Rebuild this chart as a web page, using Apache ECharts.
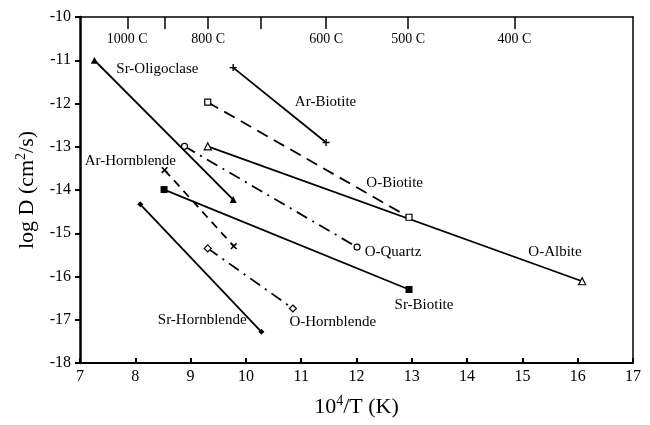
<!DOCTYPE html>
<html>
<head>
<meta charset="utf-8">
<script src="https://cdn.jsdelivr.net/npm/echarts@6/dist/echarts.min.js"></script>
<style>
  html, body { margin: 0; padding: 0; background: #fff; }
  #chart { width: 650px; height: 425px; }
</style>
</head>
<body>
<div id="chart"></div>
<script>
// endpoints of each diffusion line [10^4/T, log D]
const srOligoclase = [[7.26, -11.0], [9.77, -14.22]]
const arBiotite = [[9.77, -11.17], [11.45, -12.9]]
const oBiotite = [[9.31, -11.97], [12.95, -14.63]]
const oAlbite = [[9.31, -12.99], [16.08, -16.11]]
const oQuartz = [[8.89, -12.99], [12.01, -15.32]]
const arHornblende = [[8.53, -13.54], [9.78, -15.30]]
const srBiotite = [[8.52, -13.99], [12.95, -16.30]]
const srHornblende = [[8.09, -14.33], [10.28, -17.28]]
const oHornblende = [[9.31, -15.35], [10.85, -16.74]]

// text labels
const labelText = ['Sr-Oligoclase', 'Ar-Biotite', 'O-Biotite', 'O-Quartz', 'O-Albite', 'Sr-Biotite', 'O-Hornblende', 'Sr-Hornblende', 'Ar-Hornblende']
const labelX = [8.40, 11.44, 12.69, 12.66, 15.59, 13.22, 11.57, 9.21, 7.91]
const labelY = [-11.2, -11.97, -13.85, -15.43, -15.43, -16.67, -17.06, -17.01, -13.33]

// top temperature axis (Celsius)
const topTicksC = [1000, 900, 800, 700, 600, 500, 400]
const topLabelsC = [1000, 800, 600, 500, 400]

const toInvT = c => 10000 / (c + 273.15)
const serif = 'Liberation Serif'

const plusPath = 'path://M4,0H6V4H10V6H6V10H4V6H0V4H4Z'

function line(data, dash, symbol, size, filled, rotate) {
  return {
    type: 'line',
    data: data,
    symbol: symbol,
    symbolSize: size,
    symbolRotate: rotate || 0,
    showSymbol: true,
    lineStyle: { color: '#000', width: 1.8, type: dash },
    itemStyle: { color: filled ? '#000' : '#fff', borderColor: '#000', borderWidth: filled ? 0 : 1.2 },
    z: 3,
    animation: false
  }
}

const chart = echarts.init(document.getElementById('chart'))
chart.setOption({
  animation: false,
  grid: { left: 80, right: 17, top: 17, bottom: 62 },
  xAxis: [
    {
      type: 'value', min: 7, max: 17, interval: 1, position: 'bottom',
      name: '{a|10}{s|4}{a|/T (K)}', nameLocation: 'middle', nameGap: 31,
      nameTextStyle: {
        rich: {
          a: { fontFamily: serif, fontSize: 22, color: '#000' },
          s: { fontFamily: serif, fontSize: 14, color: '#000', verticalAlign: 'top', padding: [0, 0, 12, 0] }
        }
      },
      axisLine: { lineStyle: { color: '#000', width: 2 } },
      axisTick: { inside: true, length: 5, lineStyle: { color: '#000', width: 2 } },
      axisLabel: { fontFamily: serif, fontSize: 16, color: '#000', margin: 6 },
      splitLine: { show: false }
    },
    {
      type: 'value', min: 7, max: 17, position: 'top',
      axisLine: { show: true, lineStyle: { color: '#000', width: 1.5 } },
      axisTick: { show: true, inside: true, length: 12, customValues: topTicksC.map(toInvT), lineStyle: { color: '#000', width: 1.5 } },
      axisLabel: {
        show: true, inside: true, margin: 15, fontFamily: serif, fontSize: 14, color: '#000',
        customValues: topLabelsC.map(toInvT),
        formatter: v => Math.round(10000 / v - 273.15) + ' C'
      },
      splitLine: { show: false }
    }
  ],
  yAxis: [
    {
      type: 'value', min: -18, max: -10, interval: 1, position: 'left',
      name: '{a|log D (cm}{s|2}{a|/s)}', nameLocation: 'middle', nameGap: 40, nameRotate: 90,
      nameTextStyle: {
        rich: {
          a: { fontFamily: serif, fontSize: 22, color: '#000' },
          s: { fontFamily: serif, fontSize: 14, color: '#000', verticalAlign: 'top', padding: [0, 0, 12, 0] }
        }
      },
      axisLine: { show: true, lineStyle: { color: '#000', width: 2.5 } },
      axisTick: { show: true, length: 5, lineStyle: { color: '#000', width: 2 } },
      axisLabel: { fontFamily: serif, fontSize: 16, color: '#000', margin: 9 },
      splitLine: { show: false }
    },
    {
      type: 'value', min: -18, max: -10, position: 'right',
      axisLine: { show: true, lineStyle: { color: '#000', width: 1.5 } },
      axisTick: { show: false }, axisLabel: { show: false }, splitLine: { show: false }
    }
  ],
  series: [
    line(srOligoclase, 'solid', 'triangle', 7, true),
    line(arBiotite, 'solid', plusPath, 7, true),
    line(oBiotite, [12, 7], 'rect', 6, false),
    line(oAlbite, 'solid', 'triangle', 7, false),
    line(oQuartz, [12, 6, 2, 6], 'circle', 6, false),
    line(arHornblende, [8, 6], plusPath, 8, true, 45),
    line(srBiotite, 'solid', 'rect', 7, true),
    line(srHornblende, 'solid', 'diamond', 6, true),
    line(oHornblende, [12, 6, 2, 6], 'diamond', 7, false),
    {
      type: 'scatter',
      data: labelText.map((t, i) => ({ name: t, value: [labelX[i], labelY[i]] })),
      symbolSize: 0,
      itemStyle: { opacity: 1 },
      label: {
        show: true, position: 'inside', formatter: p => p.name,
        fontFamily: serif, fontSize: 15, color: '#000',
        textBorderWidth: 0, textBorderColor: 'transparent'
      },
      z: 5,
      animation: false
    }
  ]
})
</script>
</body>
</html>
